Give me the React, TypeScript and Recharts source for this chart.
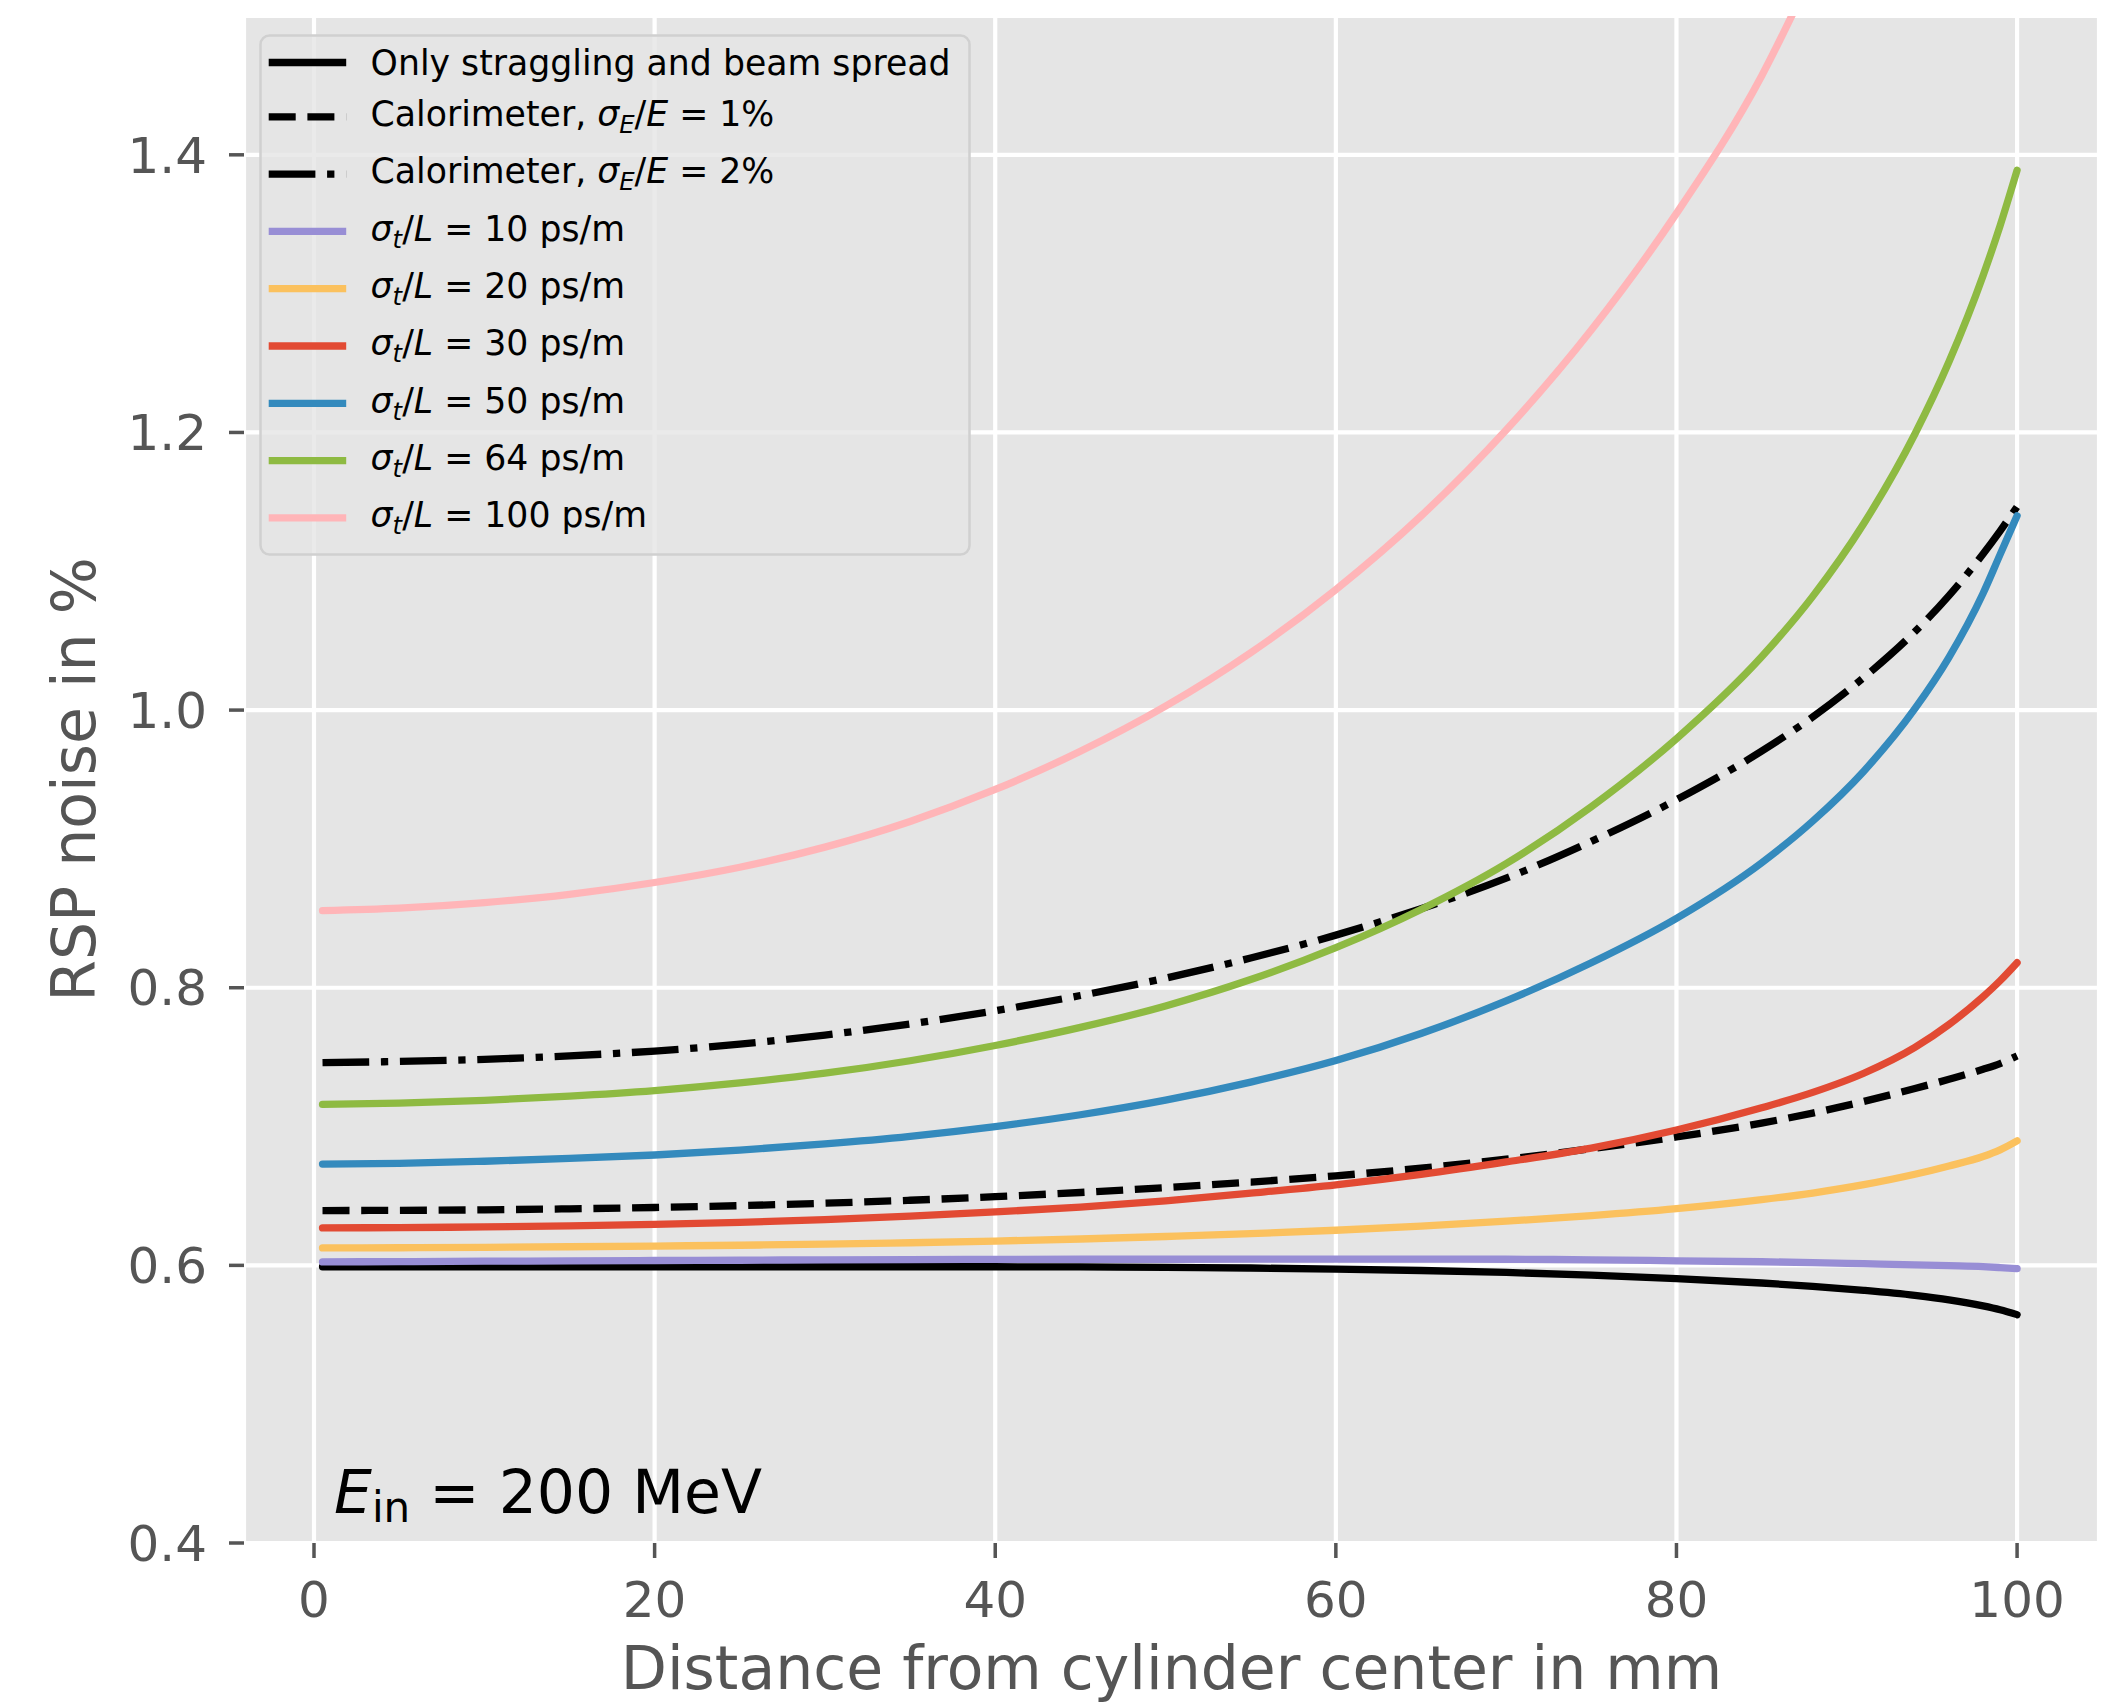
import React from "react";
import {
  LineChart,
  Line,
  XAxis,
  YAxis,
  CartesianGrid,
  Legend,
  Customized,
} from "recharts";

const FONT = "'DejaVu Sans', sans-serif";
const INK = "#555555";

// distance from cylinder center in mm
const X_MM = [0.5, 5, 10, 15, 20, 25, 30, 35, 40, 45, 50, 55, 60, 65, 70, 75, 80, 85, 88, 91, 94, 96, 98, 99, 100];

// RSP noise in %
const STRAGGLING = [0.599, 0.599, 0.599, 0.599, 0.599, 0.599, 0.599, 0.599, 0.599, 0.5989, 0.5986, 0.5981, 0.5973, 0.5963, 0.5949, 0.593, 0.5905, 0.5873, 0.5849, 0.582, 0.5784, 0.5752, 0.5708, 0.568, 0.5645];
const CALO_1 = [0.6395, 0.6396, 0.64, 0.6407, 0.6417, 0.643, 0.6448, 0.6469, 0.6495, 0.6525, 0.656, 0.66, 0.6645, 0.67, 0.6765, 0.684, 0.6925, 0.7025, 0.7097, 0.7181, 0.7274, 0.734, 0.7412, 0.7454, 0.7509];
const CALO_2 = [0.746, 0.7469, 0.7484, 0.7509, 0.7544, 0.7594, 0.7659, 0.7739, 0.7834, 0.7944, 0.8069, 0.8214, 0.8379, 0.8569, 0.8789, 0.9054, 0.9354, 0.9704, 0.995, 1.0235, 1.0565, 1.0825, 1.1125, 1.129, 1.1465];
const TOF_10 = [0.6025, 0.6027, 0.603, 0.6032, 0.6035, 0.6037, 0.604, 0.6042, 0.6043, 0.6044, 0.6044, 0.6045, 0.6045, 0.6045, 0.6044, 0.604, 0.6033, 0.6026, 0.602, 0.6012, 0.6004, 0.5998, 0.5991, 0.5984, 0.5976];
const TOF_20 = [0.6126, 0.6127, 0.613, 0.6134, 0.6139, 0.6145, 0.6153, 0.6163, 0.6175, 0.619, 0.6208, 0.6228, 0.6253, 0.6283, 0.6318, 0.6358, 0.6408, 0.6473, 0.6521, 0.6581, 0.6656, 0.6716, 0.6784, 0.6832, 0.6897];
const TOF_30 = [0.627, 0.6272, 0.6277, 0.6285, 0.6295, 0.631, 0.633, 0.6355, 0.6385, 0.642, 0.6465, 0.652, 0.658, 0.6655, 0.6745, 0.6845, 0.6975, 0.7135, 0.7246, 0.7384, 0.757, 0.7735, 0.7935, 0.805, 0.818];
const TOF_50 = [0.673, 0.6735, 0.675, 0.677, 0.6795, 0.683, 0.6875, 0.693, 0.7, 0.7085, 0.719, 0.732, 0.7475, 0.767, 0.7905, 0.818, 0.85, 0.89, 0.92, 0.956, 1.001, 1.038, 1.084, 1.112, 1.14];
const TOF_64 = [0.716, 0.7169, 0.7189, 0.7219, 0.7259, 0.7314, 0.7384, 0.7474, 0.7584, 0.7714, 0.7869, 0.8059, 0.8289, 0.8564, 0.8894, 0.9304, 0.9794, 1.0384, 1.0819, 1.1344, 1.1989, 1.2509, 1.3129, 1.3489, 1.3889];
const TOF_100 = [0.8555, 0.8573, 0.8613, 0.8673, 0.8758, 0.8868, 0.9013, 0.9198, 0.9428, 0.9703, 1.0028, 1.0413, 1.0868, 1.1398, 1.2018, 1.2738, 1.3578, 1.4568, 1.5318, 1.6128, 1.7088, 1.7828, 1.8668, 1.9138, 1.9658];

const X_TICKS = [0, 20, 40, 60, 80, 100];
const Y_TICKS = [0.4, 0.6, 0.8, 1.0, 1.2, 1.4];

const LW = 7.3;
const LEG_FS = 34.7;

// mathtext-ish label: sigma_sub / denom
const sigma = (sub: string, denom: string) => (
  <>
    <tspan fontStyle="italic">σ</tspan>
    <tspan fontStyle="italic" fontSize={LEG_FS * 0.7} dy={7}>{sub}</tspan>
    <tspan dy={-7}>/</tspan>
    <tspan fontStyle="italic">{denom}</tspan>
  </>
);

const tofLabel = (v: string) => (
  <>
    {sigma("t", "L")}
    <tspan>{` = ${v} ps/m`}</tspan>
  </>
);

const caloLabel = (v: string) => (
  <>
    <tspan>{"Calorimeter, "}</tspan>
    {sigma("E", "E")}
    <tspan>{` = ${v}%`}</tspan>
  </>
);

const SERIES = [
  { key: "straggling", values: STRAGGLING, color: "#000000", dash: undefined, label: <tspan>Only straggling and beam spread</tspan> },
  { key: "calo1", values: CALO_1, color: "#000000", dash: "27 11.7", label: caloLabel("1") },
  { key: "calo2", values: CALO_2, color: "#000000", dash: "46.7 11.7 7.3 11.7", label: caloLabel("2") },
  { key: "tof10", values: TOF_10, color: "#988ED5", dash: undefined, label: tofLabel("10") },
  { key: "tof20", values: TOF_20, color: "#FBC15E", dash: undefined, label: tofLabel("20") },
  { key: "tof30", values: TOF_30, color: "#E24A33", dash: undefined, label: tofLabel("30") },
  { key: "tof50", values: TOF_50, color: "#348ABD", dash: undefined, label: tofLabel("50") },
  { key: "tof64", values: TOF_64, color: "#8EBA42", dash: undefined, label: tofLabel("64") },
  { key: "tof100", values: TOF_100, color: "#FFB5B8", dash: undefined, label: tofLabel("100") },
];

function LegendBox() {
  return (
    <svg width={712} height={522} style={{ display: "block", overflow: "visible" }}>
      <rect x={1.5} y={1.5} width={709} height={519} rx={9} fill="rgba(229,229,229,0.8)" stroke="#d0d0d0" strokeWidth={2.5} />
      {SERIES.map((s, i) => {
        const cy = i === 0 ? 28.5 : 82.8 + (i - 1) * 57.3;
        const base = cy + (i === 0 ? 12.6 : 9.2);
        return (
          <g key={s.key}>
            <line x1={9.7} x2={87.2} y1={cy} y2={cy} stroke={s.color} strokeWidth={LW} strokeDasharray={s.dash} />
            <text x={111.6} y={base} fontFamily={FONT} fontSize={LEG_FS} fill="#000">
              {s.label}
            </text>
          </g>
        );
      })}
    </svg>
  );
}

const EnergyNote = () => (
  <text x={334} y={1513} fontFamily={FONT} fontSize={60} fill="#000">
    <tspan fontStyle="italic">E</tspan>
    <tspan fontSize={42} dy={9}>in</tspan>
    <tspan dy={-9}>{" = 200 MeV"}</tspan>
  </text>
);

export default function App() {
  const rows = X_MM.map((x, i) => {
    const r: Record<string, number> = { x };
    SERIES.forEach((s) => {
      r[s.key] = s.values[i];
    });
    return r;
  });

  return (
    <div style={{ position: "absolute", left: 0, top: 0, width: 2115, height: 1704, background: "#fff", fontFamily: FONT }}>
      <LineChart width={2115} height={1704} data={rows} margin={{ top: 16, right: 16, bottom: 41, left: 44 }}>
        <CartesianGrid fill="#E5E5E5" stroke="#FFFFFF" strokeWidth={4.2} />
        <XAxis
          dataKey="x"
          type="number"
          domain={[-4.11, 104.81]}
          ticks={X_TICKS}
          interval={0}
          allowDataOverflow
          height={120}
          axisLine={false}
          tickLine={{ stroke: INK, strokeWidth: 3.5 }}
          tickSize={15}
          tickMargin={23}
          tick={{ fill: INK, fontSize: 50, fontFamily: FONT }}
          label={() => (
            <text x={1171.5} y={1689} textAnchor="middle" fontFamily={FONT} fontSize={60} fill={INK}>
              Distance from cylinder center in mm
            </text>
          )}
        />
        <YAxis
          type="number"
          domain={[0.4, 1.5]}
          ticks={Y_TICKS}
          interval={0}
          allowDataOverflow
          width={200}
          axisLine={false}
          tickLine={{ stroke: INK, strokeWidth: 3.5 }}
          tickSize={15}
          tickMargin={22}
          tickFormatter={(v: number) => v.toFixed(1)}
          tick={{ fill: INK, fontSize: 50, fontFamily: FONT }}
          label={() => (
            <text x={95} y={779.5} transform="rotate(-90 95 779.5)" textAnchor="middle" fontFamily={FONT} fontSize={60} fill={INK}>
              RSP noise in %
            </text>
          )}
        />
        {SERIES.map((s) => (
          <Line
            key={s.key}
            dataKey={s.key}
            type="monotone"
            stroke={s.color}
            strokeWidth={LW}
            strokeDasharray={s.dash}
            strokeLinecap={s.dash ? "butt" : "round"}
            strokeLinejoin="round"
            dot={false}
            activeDot={false}
            isAnimationActive={false}
          />
        ))}
        <Customized component={EnergyNote} />
        <Legend
          layout="vertical"
          align="center"
          verticalAlign="middle"
          wrapperStyle={{ left: 259, top: 33.5, width: 712, height: 522, margin: 0, padding: 0 }}
          content={() => <LegendBox />}
        />
      </LineChart>
    </div>
  );
}
